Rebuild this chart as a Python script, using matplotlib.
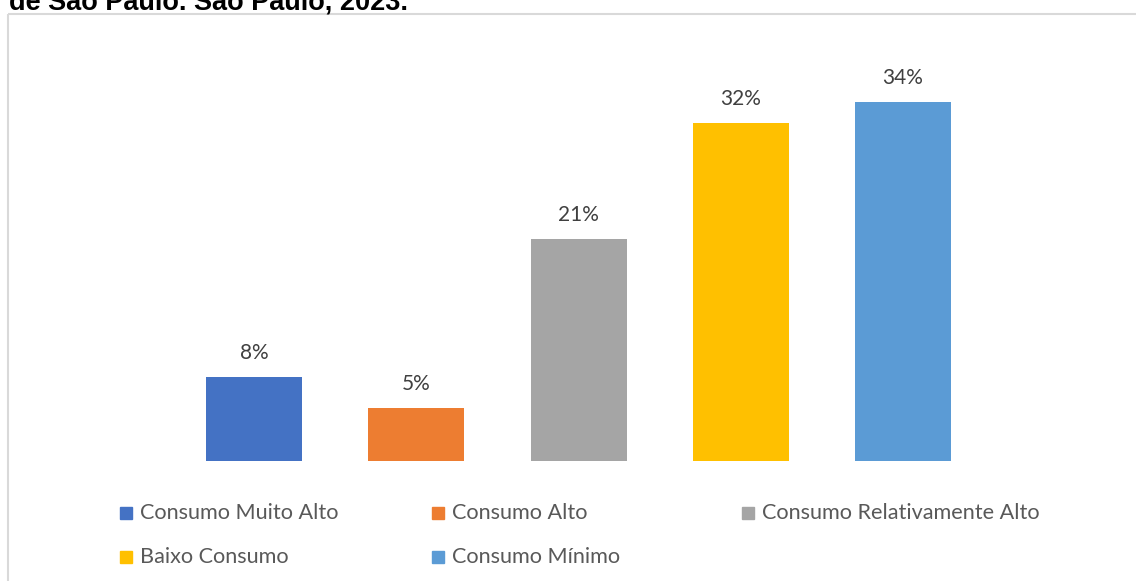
import matplotlib.pyplot as plt
from matplotlib.patches import Rectangle

# participação de cada classe de consumo (%)
categorias = ["Consumo Muito Alto", "Consumo Alto", "Consumo Relativamente Alto",
              "Baixo Consumo", "Consumo Mínimo"]
valores = [8, 5, 21, 32, 34]
cores = ["#4472C4", "#ED7D31", "#A5A5A5", "#FFC000", "#5B9BD5"]

W, H = 1136, 581
fig = plt.figure(figsize=(W / 100, H / 100), dpi=100)

def px(x, y):
    # pixel (a partir do canto superior esquerdo) -> fração da figura
    return x / W, 1 - y / H

# moldura do gráfico
fig.patches.append(Rectangle(px(8, 13.5), (W + 10) / W, -(H + 10) / H,
                             transform=fig.transFigure, fill=False,
                             edgecolor="#D9D9D9", linewidth=1.5))

# título (cortado na parte de cima)
fig.text(9 / W, 1 - 9.5 / H, "de São Paulo. São Paulo, 2023.", fontsize=19.5,
         fontweight="bold", family="Liberation Sans", ha="left", va="baseline")

# eixo: centro da 1ª barra em x=254 px, passo de 162.25 px, base em y=461 px
passo = 162.25
esq = 254 - passo / 2
alt = 40 * 359 / 34
ax = fig.add_axes([esq / W, (H - 461) / H, 5 * passo / W, alt / H])
x = list(range(len(valores)))
ax.bar(x, valores, width=96 / passo, color=cores)
ax.set_xlim(-0.5, 4.5)
ax.set_ylim(0, 40)
ax.axis("off")

for xi, v in zip(x, valores):
    ax.annotate(f"{v}%", (xi, v), xytext=(0, 24), textcoords="offset pixels",
                ha="center", va="center", fontsize=15, family="Lato",
                color="#404040")

# legenda em duas linhas
col_x = [120, 432, 742]
lin_y = [513, 557]
for i, (nome, cor) in enumerate(zip(categorias, cores)):
    cx = col_x[i % 3]
    cy = lin_y[i // 3]
    fig.patches.append(Rectangle(px(cx, cy + 6), 12 / W, 12 / H,
                                 transform=fig.transFigure, color=cor))
    fig.text(*px(cx + 20, cy), nome, fontsize=15.6, family="Lato",
             color="#595959", ha="left", va="center")

fig.savefig("out.png", dpi=100)
